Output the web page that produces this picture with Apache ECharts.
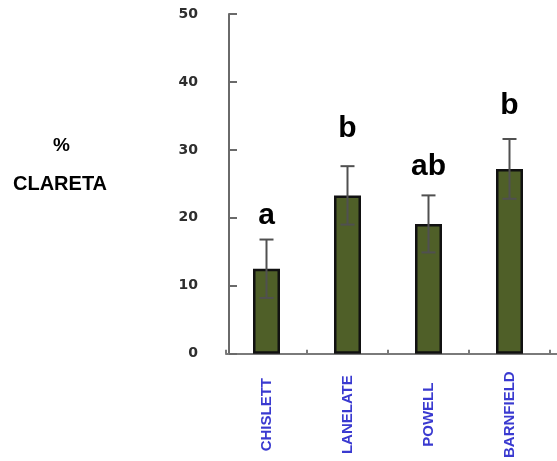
<!DOCTYPE html>
<html>
<head>
<meta charset="utf-8">
<script src="https://cdn.jsdelivr.net/npm/echarts@6/dist/echarts.min.js"></script>
<style>
html,body{margin:0;padding:0;background:#fff;}
#chart{width:557px;height:461px;}
</style>
</head>
<body>
<div id="chart"></div>
<script>
var categories = ['CHISLETT', 'LANELATE', 'POWELL', 'BARNFIELD'];
var means = [12.5, 23.3, 19.1, 27.2];
var errors = [4.3, 4.3, 4.2, 4.4];
var letters = ['a', 'b', 'ab', 'b'];
var letterPos = [20.3, 33.1, 27.5, 36.5];
var yTicks = [0, 10, 20, 30, 40, 50];

var chart = echarts.init(document.getElementById('chart'), null, {renderer: 'canvas'});

var errData = means.map(function (m, i) { return [i, m - errors[i], m + errors[i]]; });
var letterData = letters.map(function (l, i) { return [i, letterPos[i]]; });

var option = {
  backgroundColor: '#ffffff',
  animation: false,
  grid: {left: 226, top: 14, width: 324, height: 343, containLabel: false},
  xAxis: {
    type: 'category',
    data: categories,
    boundaryGap: true,
    axisLine: {show: true, lineStyle: {color: '#7a7a7a', width: 2}},
    axisTick: {show: true, inside: true, length: 4, lineStyle: {color: '#7a7a7a', width: 2}},
    axisLabel: {
      rotate: 90,
      align: 'center',
      verticalAlign: 'middle',
      margin: 61,
      color: '#3a3ad0',
      fontFamily: 'Liberation Sans, Arial, sans-serif',
      fontWeight: 'bold',
      fontSize: 15,
      padding: [0, 0, 6, 0]
    },
    splitLine: {show: false}
  },
  yAxis: {
    type: 'value',
    min: yTicks[0],
    max: yTicks[yTicks.length - 1],
    interval: 10,
    offset: -3,
    axisLine: {show: true, lineStyle: {color: '#6a6a6a', width: 2}},
    axisTick: {show: true, inside: true, length: 8, lineStyle: {color: '#6a6a6a', width: 2}},
    axisLabel: {
      margin: 31,
      color: '#2e2e2e',
      fontFamily: 'DejaVu Sans, sans-serif',
      fontWeight: 'bold',
      fontSize: 14,
      padding: [3, 0, 0, 0]
    },
    splitLine: {show: false}
  },
  graphic: [
    {type: 'text', left: 53, top: 136, style: {text: '%', font: 'bold 19px "Liberation Sans", Arial, sans-serif', fill: '#000'}},
    {type: 'text', left: 13, top: 174, style: {text: 'CLARETA', font: 'bold 20px "Liberation Sans", Arial, sans-serif', fill: '#000'}}
  ],
  series: [
    {
      type: 'bar',
      data: means,
      barWidth: 27,
      itemStyle: {color: '#4f5f28', borderColor: '#111111', borderWidth: 2.5},
      z: 2
    },
    {
      type: 'custom',
      data: errData,
      z: 5,
      renderItem: function (params, api) {
        var x = api.value(0);
        var lo = api.coord([x, api.value(1)]);
        var hi = api.coord([x, api.value(2)]);
        var half = 7;
        var style = {stroke: '#505050', lineWidth: 2};
        return {
          type: 'group',
          children: [
            {type: 'line', shape: {x1: hi[0], y1: hi[1], x2: lo[0], y2: lo[1]}, style: style},
            {type: 'line', shape: {x1: hi[0] - half, y1: hi[1], x2: hi[0] + half, y2: hi[1]}, style: style},
            {type: 'line', shape: {x1: lo[0] - half, y1: lo[1], x2: lo[0] + half, y2: lo[1]}, style: style}
          ]
        };
      }
    },
    {
      type: 'scatter',
      data: letterData,
      symbolSize: 0,
      z: 6,
      itemStyle: {opacity: 1},
      label: {
        show: true,
        position: 'inside',
        formatter: function (p) { return letters[p.dataIndex]; },
        color: '#000000',
        opacity: 1,
        fontFamily: 'Liberation Sans, Arial, sans-serif',
        fontWeight: 'bold',
        fontSize: 30
      }
    }
  ]
};
chart.setOption(option);
var y0 = Math.round(chart.convertToPixel({yAxisIndex: 0}, 0));
var xEnd = chart.convertToPixel({gridIndex: 0}, [categories.length - 1, 0]);
chart.setOption({
  graphic: [
    {type: 'text', left: 53, top: 136, style: {text: '%', font: 'bold 19px "Liberation Sans", Arial, sans-serif', fill: '#000'}},
    {type: 'text', left: 13, top: 174, style: {text: 'CLARETA', font: 'bold 20px "Liberation Sans", Arial, sans-serif', fill: '#000'}},
    {type: 'line', shape: {x1: 546, y1: y0, x2: 557, y2: y0}, style: {stroke: '#7a7a7a', lineWidth: 2}, z: 0}
  ]
});
</script>
</body>
</html>
